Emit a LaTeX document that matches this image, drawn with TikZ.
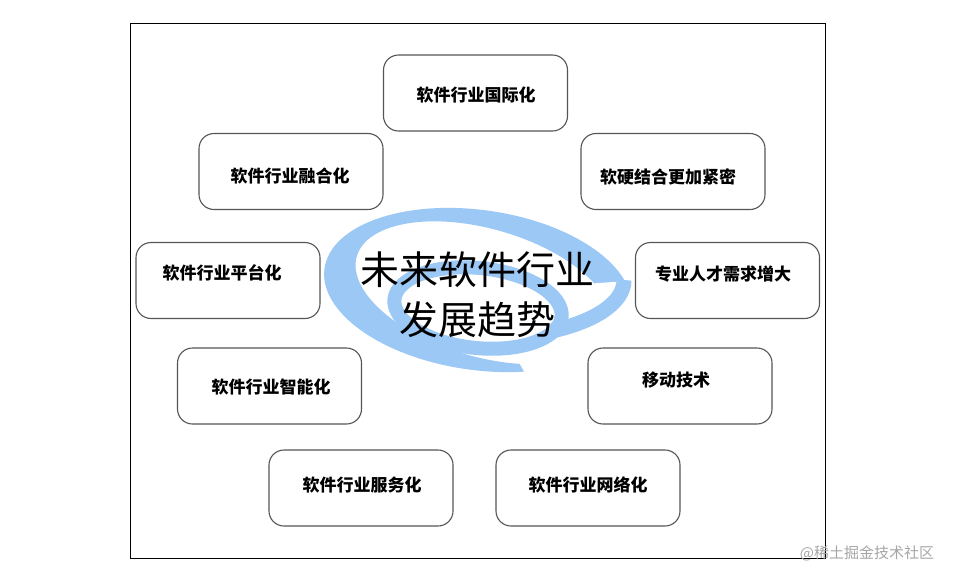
\documentclass[tikz,border=0pt]{standalone}
\usepackage{fontspec}
\newfontfamily\cjk{Noto Sans CJK SC}
\definecolor{atblue}{HTML}{9CC8F5}
\definecolor{boxgray}{HTML}{555555}
\tikzset{
  card/.style={draw=boxgray, line width=1.1pt, rounded corners=15pt, minimum width=184pt, minimum height=76pt, fill=none},
  cardtext/.style={font=\cjk\bfseries\fontsize{17}{20}\selectfont, text=black, inner sep=0pt},
  titletext/.style={font=\cjk\fontsize{39}{50}\selectfont, align=center, text=black, inner sep=0pt},
  ring/.style={draw=atblue, line cap=butt}
}
\begin{document}
\begin{tikzpicture}[x=1pt,y=-1pt]
\useasboundingbox (0,0) rectangle (955,571);
\fill[white] (0,0) rectangle (955,571);
\node[draw=black, line width=1pt, minimum width=695pt, minimum height=535pt, inner sep=0pt] (frame) at (477.5,290.5) {};
% @ symbol
\fill[atblue, even odd rule]
  [rotate around={-8:(478,290)}] (478,290) ellipse[x radius=155, y radius=80]
  [rotate around={-8:(484,292)}] (484,292) ellipse[x radius=132, y radius=64];
\fill[white] (478,292) -- (532,385) -- (640,385) -- (640,280) -- cycle;
\draw[ring, line width=14pt, rotate around={-6:(478,308)}] (478,308) ellipse[x radius=84, y radius=40];
\draw[ring, line width=15pt] (552,331) .. controls (592,322) and (624,304) .. (624,280);
% cards
\node[card] (c1) at (475.5,93) {};
\node[card] (c2) at (291,171.5) {};
\node[card] (c3) at (673,171.5) {};
\node[card] (c4) at (228,280.5) {};
\node[card] (c5) at (727.5,280.5) {};
\node[card] (c6) at (269.5,386) {};
\node[card] (c7) at (680,386) {};
\node[card] (c8) at (361,488) {};
\node[card] (c9) at (588,488) {};
\node[cardtext] (t1) at (476,95) {软件行业国际化};
\node[cardtext] (t2) at (290,176) {软件行业融合化};
\node[cardtext] (t3) at (668,177) {软硬结合更加紧密};
\node[cardtext] (t4) at (222,273) {软件行业平台化};
\node[cardtext] (t5) at (723,274) {专业人才需求增大};
\node[cardtext] (t6) at (271,387) {软件行业智能化};
\node[cardtext] (t7) at (676,380) {移动技术};
\node[cardtext] (t8) at (362,485) {软件行业服务化};
\node[cardtext] (t9) at (588,485) {软件行业网络化};
\node[titletext] (title) at (477,295) {未来软件行业\\发展趋势};
\node[font=\cjk\fontsize{15}{18}\selectfont, text=black!35, inner sep=0pt] (wm) at (867,553) {@稀土掘金技术社区};
\end{tikzpicture}
\end{document}
